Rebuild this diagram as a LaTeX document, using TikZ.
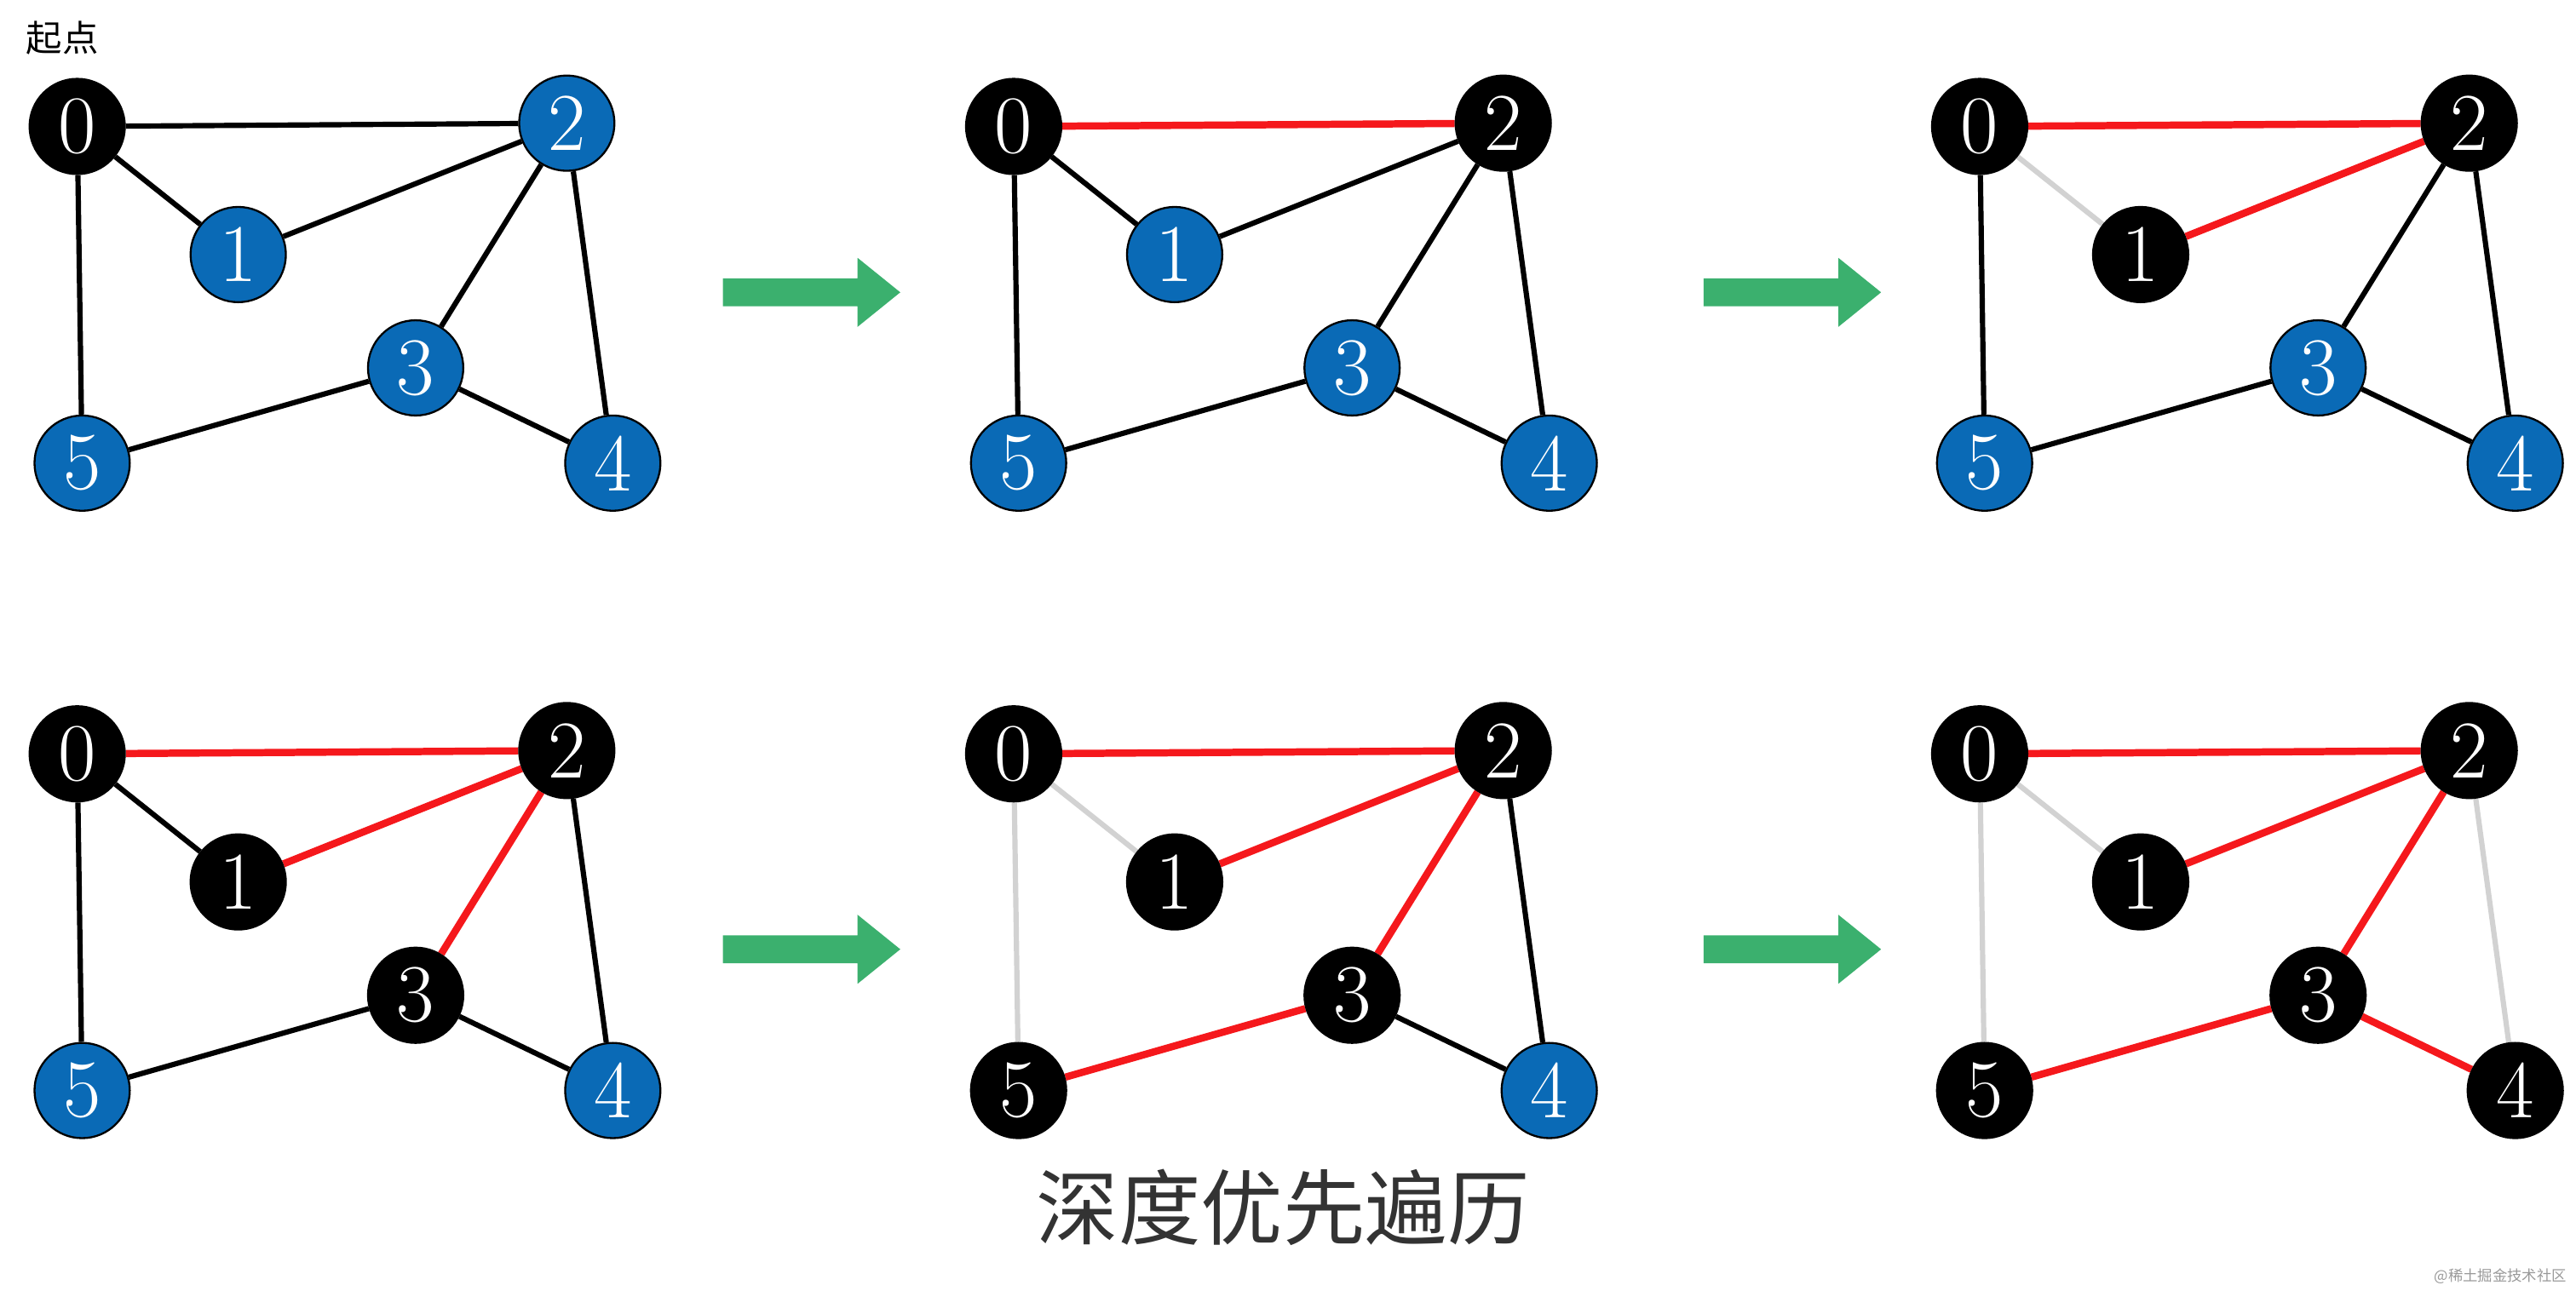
\documentclass[tikz,border=0pt]{standalone}
\usepackage{fontspec}
\newfontfamily\cjk{Noto Sans CJK SC}
\usetikzlibrary{backgrounds}
\definecolor{nodeblue}{HTML}{0A6AB6}
\definecolor{edgered}{HTML}{F5181C}
\definecolor{edgegray}{HTML}{D2D2D2}
\definecolor{arrowgreen}{HTML}{3BB06E}
\tikzset{
  nb/.style={circle,draw=black,line width=0.6pt,fill=black,text=white,minimum size=29pt,inner sep=0pt,font=\fontsize{25}{25}\selectfont},
  nu/.style={nb,fill=nodeblue},
  ek/.style={draw=black,line width=1.6pt},
  er/.style={draw=edgered,line width=2.2pt},
  eg/.style={draw=edgegray,line width=1.6pt},
  garrow/.style={fill=arrowgreen,draw=none}
}
\newcommand\gpanel[5]{%
\begin{scope}[shift={(#2,#3)}]
  \coordinate (#1c0) at (47,-77);
  \coordinate (#1c1) at (145,-155);
  \coordinate (#1c2) at (345,-75);
  \coordinate (#1c3) at (253,-224);
  \coordinate (#1c4) at (373,-282);
  \coordinate (#1c5) at (50,-282);
  \foreach \i/\s in {#4} { \node[\s] (#1\i) at (#1c\i) {\i}; }
  \begin{scope}[on background layer]
  \foreach \a/\b/\s in {#5} { \draw[\s] (#1\a) -- (#1\b); }
  \end{scope}
\end{scope}}
\newcommand\greenarrow[2]{%
  \fill[garrow] (#1,#2+8.5) -- (#1+82,#2+8.5) -- (#1+82,#2+21) -- (#1+108,#2) -- (#1+82,#2-21) -- (#1+82,#2-8.5) -- (#1,#2-8.5) -- cycle;}
\begin{document}
\begin{tikzpicture}[x=0.5pt,y=0.5pt]
\useasboundingbox (0,0) rectangle (1568,-786);
\node[font=\cjk\fontsize{11}{11}\selectfont,anchor=center] (start) at (38,-23) {起点};
\gpanel{a}{0}{0}{0/nb,1/nu,2/nu,3/nu,4/nu,5/nu}{0/2/ek,0/1/ek,1/2/ek,0/5/ek,2/3/ek,2/4/ek,3/5/ek,3/4/ek}
\gpanel{b}{570}{0}{0/nb,1/nu,2/nb,3/nu,4/nu,5/nu}{0/2/er,0/1/ek,1/2/ek,0/5/ek,2/3/ek,2/4/ek,3/5/ek,3/4/ek}
\gpanel{c}{1158}{0}{0/nb,1/nb,2/nb,3/nu,4/nu,5/nu}{0/2/er,0/1/eg,1/2/er,0/5/ek,2/3/ek,2/4/ek,3/5/ek,3/4/ek}
\gpanel{d}{0}{-382}{0/nb,1/nb,2/nb,3/nb,4/nu,5/nu}{0/2/er,0/1/ek,1/2/er,0/5/ek,2/3/er,2/4/ek,3/5/ek,3/4/ek}
\gpanel{e}{570}{-382}{0/nb,1/nb,2/nb,3/nb,4/nu,5/nb}{0/2/er,0/1/eg,1/2/er,0/5/eg,2/3/er,2/4/ek,3/5/er,3/4/ek}
\gpanel{f}{1158}{-382}{0/nb,1/nb,2/nb,3/nb,4/nb,5/nb}{0/2/er,0/1/eg,1/2/er,0/5/eg,2/3/er,2/4/eg,3/5/er,3/4/er}
\greenarrow{440}{-178}
\greenarrow{1037}{-178}
\greenarrow{440}{-578}
\greenarrow{1037}{-578}
\node[font=\cjk\fontsize{25}{25}\selectfont,text=black!80] (title) at (781,-735) {深度优先遍历};
\node[font=\cjk\fontsize{4.5}{4.5}\selectfont,text=black!40] (wm) at (1522,-777) {@稀土掘金技术社区};
\end{tikzpicture}
\end{document}
